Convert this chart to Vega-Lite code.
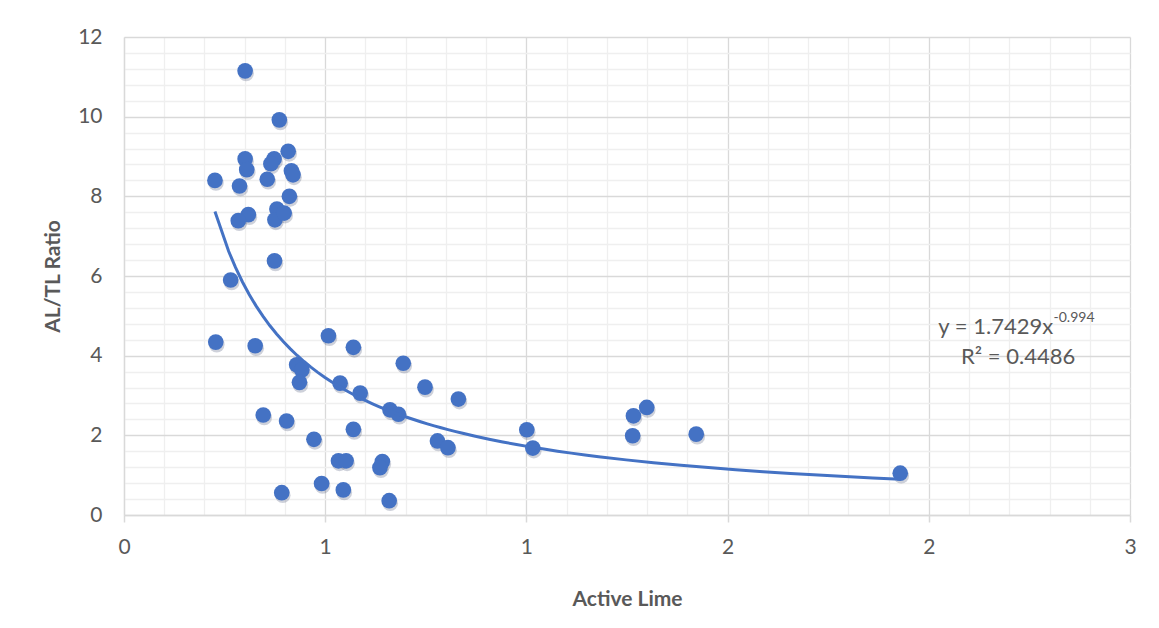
{
  "$schema": "https://vega.github.io/schema/vega-lite/v6.json",
  "width": 1006,
  "height": 478,
  "autosize": {"type": "none"},
  "padding": {"left": 124, "top": 37, "right": 29, "bottom": 113},
  "background": "white",
  "config": {
    "view": {"stroke": null},
    "font": "Lato",
    "axis": {"labelFont": "Lato", "titleFont": "Lato"}
  },
  "datasets": {
    "pts": [
      {"x": 0.301, "y": 11.15}, {"x": 0.386, "y": 9.92}, {"x": 0.301, "y": 8.94}, {"x": 0.305, "y": 8.67},
      {"x": 0.373, "y": 8.94}, {"x": 0.365, "y": 8.82}, {"x": 0.408, "y": 9.13}, {"x": 0.416, "y": 8.64},
      {"x": 0.420, "y": 8.54}, {"x": 0.226, "y": 8.40}, {"x": 0.287, "y": 8.26}, {"x": 0.356, "y": 8.43},
      {"x": 0.411, "y": 8.00}, {"x": 0.309, "y": 7.54}, {"x": 0.284, "y": 7.39}, {"x": 0.380, "y": 7.68},
      {"x": 0.375, "y": 7.41}, {"x": 0.398, "y": 7.58}, {"x": 0.374, "y": 6.38}, {"x": 0.265, "y": 5.90},
      {"x": 0.228, "y": 4.34}, {"x": 0.326, "y": 4.25}, {"x": 0.508, "y": 4.50}, {"x": 0.570, "y": 4.21},
      {"x": 0.694, "y": 3.81}, {"x": 0.429, "y": 3.77}, {"x": 0.442, "y": 3.64}, {"x": 0.436, "y": 3.33},
      {"x": 0.537, "y": 3.31}, {"x": 0.587, "y": 3.06}, {"x": 0.748, "y": 3.21}, {"x": 0.831, "y": 2.91},
      {"x": 0.661, "y": 2.64}, {"x": 0.682, "y": 2.53}, {"x": 0.346, "y": 2.51}, {"x": 0.404, "y": 2.36},
      {"x": 0.570, "y": 2.15}, {"x": 0.472, "y": 1.90}, {"x": 0.779, "y": 1.86}, {"x": 0.805, "y": 1.69},
      {"x": 1.001, "y": 2.14}, {"x": 1.016, "y": 1.68}, {"x": 1.266, "y": 2.49}, {"x": 1.299, "y": 2.70},
      {"x": 1.264, "y": 1.99}, {"x": 1.422, "y": 2.03}, {"x": 1.929, "y": 1.05}, {"x": 0.533, "y": 1.36},
      {"x": 0.552, "y": 1.36}, {"x": 0.642, "y": 1.34}, {"x": 0.636, "y": 1.19}, {"x": 0.491, "y": 0.79},
      {"x": 0.545, "y": 0.63}, {"x": 0.392, "y": 0.56}, {"x": 0.659, "y": 0.36}
    ]
  },
  "resolve": {"axis": {"x": "independent", "y": "independent"}},
  "layer": [
    {
      "data": {"name": "pts"},
      "mark": {"type": "point", "opacity": 0},
      "encoding": {
        "x": {
          "field": "x", "type": "quantitative",
          "scale": {"domain": [0, 2.5], "nice": false, "zero": false},
          "axis": {
            "orient": "bottom", "title": null, "labels": false, "ticks": false, "domain": false,
            "grid": true, "gridColor": "#efefef", "gridWidth": 1.3,
            "values": [0.1, 0.2, 0.3, 0.4, 0.6, 0.7, 0.8, 0.9, 1.1, 1.2, 1.3, 1.4, 1.6, 1.7, 1.8, 1.9, 2.1, 2.2, 2.3, 2.4]
          }
        },
        "y": {
          "field": "y", "type": "quantitative",
          "scale": {"domain": [0, 12], "nice": false, "zero": false},
          "axis": {
            "orient": "left", "title": null, "labels": false, "ticks": false, "domain": false,
            "grid": true, "gridColor": "#efefef", "gridWidth": 1.3,
            "values": [0.4, 0.8, 1.2, 1.6, 2.4, 2.8, 3.2, 3.6, 4.4, 4.8, 5.2, 5.6, 6.4, 6.8, 7.2, 7.6, 8.4, 8.8, 9.2, 9.6, 10.4, 10.8, 11.2, 11.6]
          }
        }
      }
    },
    {
      "data": {"name": "pts"},
      "mark": {"type": "circle", "size": 245, "color": "#1f2f55", "opacity": 0.22, "xOffset": 1, "yOffset": 2.5},
      "encoding": {
        "x": {
          "field": "x", "type": "quantitative",
          "scale": {"domain": [0, 2.5], "nice": false, "zero": false},
          "axis": {
            "orient": "bottom", "title": "Active Lime",
            "values": [0, 0.5, 1, 1.5, 2, 2.5],
            "labelExpr": "'' + round(datum.value)",
            "labelFlush": false,
            "grid": true, "gridColor": "#d9d9d9", "gridWidth": 1.3,
            "domain": true, "domainColor": "#d9d9d9", "domainWidth": 1.5,
            "ticks": true, "tickColor": "#d9d9d9", "tickSize": 7, "tickWidth": 1.5,
            "labelFontSize": 21, "labelColor": "#595959", "labelPadding": 14,
            "titleFontSize": 21, "titleFontWeight": "bold", "titleColor": "#595959", "titlePadding": 31
          }
        },
        "y": {
          "field": "y", "type": "quantitative",
          "scale": {"domain": [0, 12], "nice": false, "zero": false},
          "axis": {
            "orient": "left", "title": "AL/TL Ratio",
            "values": [0, 2, 4, 6, 8, 10, 12],
            "grid": true, "gridColor": "#d9d9d9", "gridWidth": 1.3,
            "domain": true, "domainColor": "#d9d9d9", "domainWidth": 1.3,
            "ticks": false,
            "labelFontSize": 21, "labelColor": "#595959", "labelPadding": 22,
            "titleFontSize": 21, "titleFontWeight": "bold", "titleColor": "#595959", "titlePadding": 14
          }
        }
      }
    },
    {
      "data": {"name": "pts"},
      "mark": {"type": "circle", "size": 245, "color": "#4472C4", "opacity": 1},
      "encoding": {
        "x": {"field": "x", "type": "quantitative", "axis": null},
        "y": {"field": "y", "type": "quantitative", "axis": null}
      }
    },
    {
      "data": {"name": "pts"},
      "transform": [{"regression": "y", "on": "x", "method": "pow"}],
      "mark": {"type": "line", "color": "#4472C4", "strokeWidth": 3},
      "encoding": {
        "x": {"field": "x", "type": "quantitative", "axis": null},
        "y": {"field": "y", "type": "quantitative", "axis": null}
      }
    },
    {
      "data": {"values": [{"x": 2.309, "y": 4.72, "t": "y = 1.7429x"}]},
      "mark": {"type": "text", "align": "right", "baseline": "middle", "fontSize": 22, "color": "#595959", "font": "Lato"},
      "encoding": {
        "x": {"field": "x", "type": "quantitative", "axis": null},
        "y": {"field": "y", "type": "quantitative", "axis": null},
        "text": {"field": "t"}
      }
    },
    {
      "data": {"values": [{"x": 2.31, "y": 4.95, "t": "-0.994"}]},
      "mark": {"type": "text", "align": "left", "baseline": "middle", "fontSize": 14, "color": "#595959", "font": "Lato"},
      "encoding": {
        "x": {"field": "x", "type": "quantitative", "axis": null},
        "y": {"field": "y", "type": "quantitative", "axis": null},
        "text": {"field": "t"}
      }
    },
    {
      "data": {"values": [{"x": 2.222, "y": 3.97, "t": "R² = 0.4486"}]},
      "mark": {"type": "text", "align": "center", "baseline": "middle", "fontSize": 22, "color": "#595959", "font": "Lato"},
      "encoding": {
        "x": {"field": "x", "type": "quantitative", "axis": null},
        "y": {"field": "y", "type": "quantitative", "axis": null},
        "text": {"field": "t"}
      }
    }
  ]
}
